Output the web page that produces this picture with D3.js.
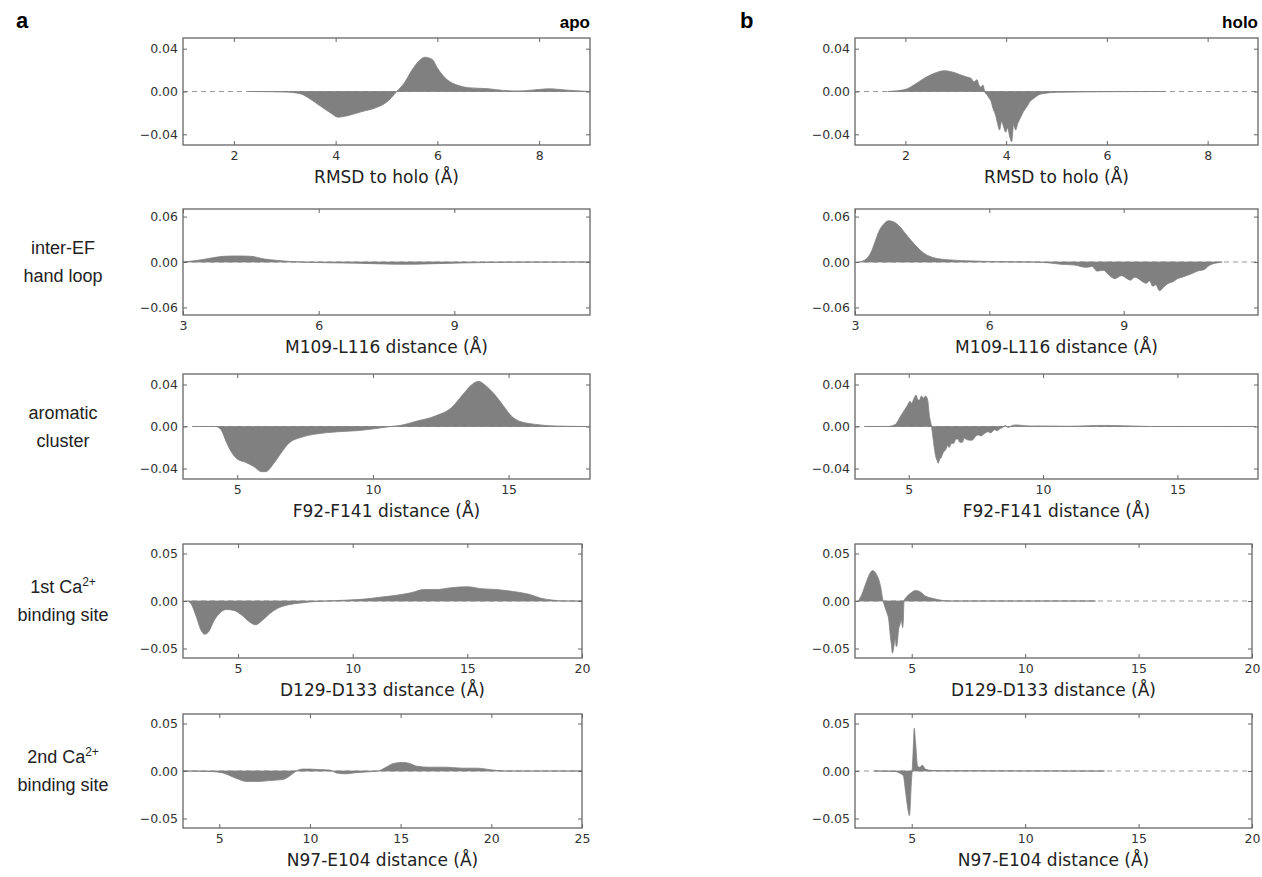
<!DOCTYPE html>
<html>
<head>
<meta charset="utf-8">
<script src="https://cdn.jsdelivr.net/npm/d3@7"></script>
<style>
  body { margin: 0; background: #fff; }
  .tick text { font-family: "DejaVu Sans", sans-serif; font-size: 12.5px; fill: #333; }
  .tick line { stroke: #666; }
</style>
</head>
<body>
<svg id="chart" width="1262" height="877"></svg>
<script>
// difference distributions, x in Angstrom, y = density difference
const apoRmsdX = [2.3, 3.0, 3.3, 3.5, 3.7, 3.9, 4.05, 4.2, 4.5, 4.8, 5.0, 5.1, 5.2, 5.35, 5.5, 5.65, 5.75, 5.9, 6.0, 6.2, 6.4, 6.6, 7.0, 7.3, 7.6, 7.9, 8.2, 8.5, 8.8, 9.0];
const apoRmsdY = [0, -0.0005, -0.002, -0.007, -0.0136, -0.02, -0.024, -0.023, -0.019, -0.015, -0.01, -0.0055, 0, 0.008, 0.02, 0.029, 0.032, 0.03, 0.022, 0.0107, 0.0058, 0.0036, 0.0026, 0.001, 0.0005, 0.0015, 0.0025, 0.0015, 0.0005, 0];

const holoRmsdX = [1.65, 1.85, 2.04, 2.2, 2.36, 2.55, 2.77, 2.95, 3.1, 3.22, 3.3, 3.36, 3.42, 3.46, 3.5, 3.54, 3.58, 3.62, 3.66, 3.7, 3.74, 3.79, 3.83, 3.87, 3.91, 3.95, 3.99, 4.03, 4.07, 4.11, 4.15, 4.19, 4.23, 4.27, 4.33, 4.4, 4.48, 4.56, 4.65, 4.72, 5.0, 5.5, 6.0, 6.5, 7.16];
const holoRmsdY = [0, 0.0008, 0.0026, 0.007, 0.012, 0.0165, 0.0194, 0.018, 0.0155, 0.0135, 0.0125, 0.009, 0.011, 0.006, 0.004, 0.006, -0.001, -0.003, -0.006, -0.009, -0.016, -0.022, -0.03, -0.036, -0.028, -0.033, -0.038, -0.034, -0.042, -0.047, -0.031, -0.036, -0.03, -0.026, -0.02, -0.015, -0.009, -0.006, -0.003, -0.002, -0.0008, -0.0004, -0.0002, -0.0001, 0];

const apoLoopX = [3.0, 3.3, 3.6, 3.9, 4.2, 4.5, 4.8, 5.1, 5.4, 5.7, 6.2, 6.8, 7.4, 7.9, 8.4, 9.0, 9.6, 10.2, 12.0];
const apoLoopY = [0, 0.002, 0.005, 0.0075, 0.008, 0.0075, 0.004, 0.002, 0.0005, -0.0003, -0.001, -0.0015, -0.0025, -0.003, -0.0025, -0.0015, -0.0008, -0.0003, 0];

const holoLoopX = [3.1, 3.25, 3.35, 3.45, 3.53, 3.64, 3.75, 3.86, 3.98, 4.16, 4.35, 4.53, 4.8, 5.07, 5.5, 5.95, 6.4, 6.9, 7.3, 7.6, 7.9, 8.15, 8.3, 8.4, 8.55, 8.65, 8.8, 8.95, 9.05, 9.15, 9.25, 9.33, 9.42, 9.5, 9.58, 9.65, 9.72, 9.8, 9.88, 9.95, 10.05, 10.1, 10.2, 10.3, 10.4, 10.5, 10.65, 10.8, 10.9, 11.1, 11.2];
const holoLoopY = [0, 0.004, 0.012, 0.027, 0.04, 0.05, 0.0545, 0.053, 0.048, 0.035, 0.022, 0.012, 0.005, 0.003, 0.0015, 0.0008, 0.0003, 0, -0.001, -0.003, -0.004, -0.007, -0.006, -0.012, -0.011, -0.016, -0.022, -0.018, -0.021, -0.024, -0.02, -0.022, -0.026, -0.028, -0.025, -0.032, -0.03, -0.038, -0.034, -0.03, -0.027, -0.026, -0.022, -0.02, -0.018, -0.016, -0.012, -0.01, -0.005, -0.001, 0];

const apoAromX = [3.4, 4.2, 4.4, 4.6, 4.8, 5.0, 5.3, 5.6, 5.9, 6.05, 6.35, 6.65, 6.9, 7.4, 7.95, 8.7, 9.4, 10.1, 10.65, 11.0, 11.6, 12.3, 12.9, 13.3, 13.7, 13.9, 14.15, 14.5, 14.8, 15.1, 15.4, 16.0, 16.7, 17.9];
const apoAromY = [0, 0, -0.003, -0.015, -0.025, -0.031, -0.034, -0.038, -0.043, -0.043, -0.035, -0.024, -0.016, -0.01, -0.007, -0.005, -0.004, -0.002, 0, 0.001, 0.005, 0.01, 0.018, 0.03, 0.041, 0.043, 0.039, 0.03, 0.02, 0.01, 0.005, 0.002, 0.0005, 0];

const holoAromX = [3.4, 4.2, 4.5, 4.7, 4.85, 4.95, 5.05, 5.1, 5.2, 5.27, 5.33, 5.4, 5.47, 5.55, 5.62, 5.7, 5.77, 5.85, 5.9, 5.95, 6.0, 6.05, 6.1, 6.15, 6.2, 6.28, 6.38, 6.45, 6.5, 6.6, 6.68, 6.75, 6.83, 6.9, 7.0, 7.06, 7.13, 7.25, 7.36, 7.5, 7.6, 7.7, 7.8, 7.95, 8.05, 8.2, 8.3, 8.4, 8.5, 8.6, 8.7, 8.85, 9.0, 9.5, 10, 11, 12, 12.5, 13.3, 14, 17.9];
const holoAromY = [0, 0, 0.002, 0.01, 0.016, 0.02, 0.024, 0.022, 0.027, 0.03, 0.026, 0.025, 0.029, 0.027, 0.029, 0.026, 0.01, 0, -0.01, -0.02, -0.028, -0.032, -0.035, -0.031, -0.03, -0.025, -0.022, -0.018, -0.02, -0.016, -0.016, -0.012, -0.012, -0.015, -0.015, -0.011, -0.012, -0.013, -0.013, -0.009, -0.008, -0.009, -0.007, -0.005, -0.006, -0.003, -0.004, -0.002, -0.001, 0.001, -0.001, 0.001, 0.0015, 0.0005, 0.0005, 0.0002, 0.001, 0.001, 0.0005, 0, 0];

const apoSite1X = [2.8, 2.95, 3.2, 3.37, 3.55, 3.7, 3.97, 4.23, 4.5, 4.83, 5.17, 5.5, 5.77, 6.03, 6.4, 6.7, 7.2, 7.75, 8.4, 8.9, 9.8, 10.5, 11.2, 11.9, 12.6, 13.1, 13.6, 14.3, 15.0, 15.6, 16.3, 17.0, 17.7, 18.2, 18.7, 19.2, 20];
const apoSite1Y = [0, -0.003, -0.018, -0.03, -0.035, -0.033, -0.02, -0.012, -0.009, -0.01, -0.015, -0.022, -0.025, -0.021, -0.013, -0.008, -0.004, -0.002, -0.0005, 0, 0.001, 0.002, 0.004, 0.006, 0.009, 0.012, 0.012, 0.014, 0.015, 0.013, 0.012, 0.01, 0.007, 0.003, 0.001, 0, 0];

const holoSite1X = [2.65, 2.82, 3.0, 3.18, 3.27, 3.45, 3.63, 3.72, 3.8, 3.9, 3.99, 4.05, 4.1, 4.15, 4.2, 4.27, 4.32, 4.36, 4.42, 4.48, 4.54, 4.6, 4.63, 4.66, 4.8, 4.99, 5.17, 5.35, 5.62, 5.89, 6.25, 6.6, 8, 10, 13.1];
const holoSite1Y = [0, 0.008, 0.02, 0.03, 0.032, 0.028, 0.015, 0.002, -0.005, -0.012, -0.02, -0.035, -0.045, -0.055, -0.05, -0.04, -0.048, -0.045, -0.03, -0.025, -0.02, -0.028, -0.02, 0, 0.005, 0.009, 0.011, 0.01, 0.005, 0.003, 0.001, 0, 0, 0, 0];

const apoSite2X = [3, 4.5, 5.2, 5.6, 6.1, 6.5, 7.2, 7.8, 8.5, 8.9, 9.25, 9.6, 10.0, 10.5, 11.1, 11.45, 12.0, 12.4, 13.1, 13.75, 14.2, 14.6, 15.1, 15.5, 15.9, 16.6, 17.5, 18.4, 19.2, 20.1, 20.8, 25];
const apoSite2Y = [0, -0.0005, -0.002, -0.005, -0.009, -0.011, -0.011, -0.01, -0.009, -0.005, 0, 0.002, 0.002, 0.0015, 0.001, -0.002, -0.003, -0.002, -0.001, 0, 0.004, 0.008, 0.009, 0.008, 0.005, 0.004, 0.004, 0.003, 0.003, 0.001, 0, 0];

const holoSite2X = [3.36, 4.27, 4.45, 4.63, 4.72, 4.8, 4.9, 4.99, 5.02, 5.08, 5.11, 5.17, 5.26, 5.35, 5.47, 5.6, 5.9, 6.25, 13.5];
const holoSite2Y = [0, -0.0005, -0.002, -0.005, -0.02, -0.035, -0.047, -0.01, 0, 0.03, 0.045, 0.03, 0.005, 0.004, 0.006, 0.002, 0.0005, 0.0003, 0];

// axis titles, ticks and limits for each row
const xTitles = ["RMSD to holo (\u00c5)", "M109-L116 distance (\u00c5)", "F92-F141 distance (\u00c5)", "D129-D133 distance (\u00c5)", "N97-E104 distance (\u00c5)"];
const xTicksApo = [[2, 4, 6, 8], [3, 6, 9], [5, 10, 15], [5, 10, 15, 20], [5, 10, 15, 20, 25]];
const xTicksHolo = [[2, 4, 6, 8], [3, 6, 9], [5, 10, 15], [5, 10, 15, 20], [5, 10, 15, 20]];
const xLimApo = [[1, 9], [3, 12], [3, 18], [2.6, 20], [3, 25]];
const xLimHolo = [[1, 9], [3, 12], [3, 18], [2.5, 20], [2.5, 20]];
const yTicks = [[-0.04, 0, 0.04], [-0.06, 0, 0.06], [-0.04, 0, 0.04], [-0.05, 0, 0.05], [-0.05, 0, 0.05]];
const yLim = [0.05, 0.07, 0.05, 0.06, 0.06];
const rowLabels = [null, ["inter-EF", "hand loop"], ["aromatic", "cluster"], ["1st Ca", "binding site"], ["2nd Ca", "binding site"]];

const apoSeries = [[apoRmsdX, apoRmsdY], [apoLoopX, apoLoopY], [apoAromX, apoAromY], [apoSite1X, apoSite1Y], [apoSite2X, apoSite2Y]];
const holoSeries = [[holoRmsdX, holoRmsdY], [holoLoopX, holoLoopY], [holoAromX, holoAromY], [holoSite1X, holoSite1Y], [holoSite2X, holoSite2Y]];

// layout
const rowTop = [38, 209, 374, 544, 714];
const rowBottom = [145, 315, 479, 658, 828];
const colLeft = [183, 855];
const colRight = [[590, 590, 590, 582, 582], [1258, 1258, 1258, 1252, 1252]];

const svg = d3.select("#chart");

function drawPanel(col, row, series, xLim, xTicks) {
  const left = colLeft[col];
  const right = colRight[col][row];
  const top = rowTop[row];
  const bottom = rowBottom[row];

  const x = d3.scaleLinear().domain(xLim).range([left, right]);
  const y = d3.scaleLinear().domain([-yLim[row], yLim[row]]).range([bottom, top]);

  const clipId = "clip-" + col + "-" + row;
  svg.append("clipPath").attr("id", clipId)
    .append("rect")
    .attr("x", left).attr("y", top)
    .attr("width", right - left).attr("height", bottom - top);

  const points = series[0].map((v, i) => [v, series[1][i]]);

  // dashed zero line
  svg.append("line")
    .attr("x1", left).attr("x2", right)
    .attr("y1", y(0)).attr("y2", y(0))
    .attr("stroke", "#999")
    .attr("stroke-width", 1)
    .attr("stroke-dasharray", "5,4");

  const area = d3.area()
    .curve(d3.curveMonotoneX)
    .x(d => x(d[0]))
    .y0(y(0))
    .y1(d => y(d[1]));

  svg.append("path")
    .datum(points)
    .attr("clip-path", "url(#" + clipId + ")")
    .attr("d", area)
    .attr("fill", "#808080")
    .attr("stroke", "#808080")
    .attr("stroke-width", 0.8)
    .attr("stroke-linejoin", "round");

  // axes with inward ticks on all sides
  svg.append("g")
    .attr("transform", "translate(0," + bottom + ")")
    .call(d3.axisBottom(x).tickValues(xTicks).tickSize(-4).tickPadding(6).tickFormat(d3.format("d")))
    .call(g => g.select(".domain").remove());

  svg.append("g")
    .attr("transform", "translate(0," + top + ")")
    .call(d3.axisTop(x).tickValues(xTicks).tickSize(-4).tickFormat(""))
    .call(g => g.select(".domain").remove());

  svg.append("g")
    .attr("transform", "translate(" + left + ",0)")
    .call(d3.axisLeft(y).tickValues(yTicks[row]).tickSize(-4).tickPadding(5).tickFormat(d3.format(".2f")))
    .call(g => g.select(".domain").remove());

  svg.append("g")
    .attr("transform", "translate(" + right + ",0)")
    .call(d3.axisRight(y).tickValues(yTicks[row]).tickSize(-4).tickFormat(""))
    .call(g => g.select(".domain").remove());

  svg.append("rect")
    .attr("x", left).attr("y", top)
    .attr("width", right - left).attr("height", bottom - top)
    .attr("fill", "none")
    .attr("stroke", "#666")
    .attr("stroke-width", 1.3);

  svg.append("text")
    .attr("x", (left + right) / 2)
    .attr("y", bottom + 38)
    .attr("text-anchor", "middle")
    .attr("font-family", "DejaVu Sans, sans-serif")
    .attr("font-size", 17)
    .attr("fill", "#222")
    .text(xTitles[row]);
}

for (let r = 0; r < 5; r++) {
  drawPanel(0, r, apoSeries[r], xLimApo[r], xTicksApo[r]);
  drawPanel(1, r, holoSeries[r], xLimHolo[r], xTicksHolo[r]);
}

// row labels on the left
rowLabels.forEach((lines, r) => {
  if (!lines) return;
  const mid = (rowTop[r] + rowBottom[r]) / 2;
  const t = svg.append("text")
    .attr("text-anchor", "middle")
    .attr("font-family", "Liberation Sans, Arial, sans-serif")
    .attr("font-size", 18)
    .attr("fill", "#222");
  const first = t.append("tspan").attr("x", 63).attr("y", mid - 8).text(lines[0]);
  if (r >= 3) {
    first.append("tspan").attr("dy", -7).attr("font-size", 12).text("2+");
  }
  t.append("tspan").attr("x", 63).attr("y", mid + 20).text(lines[1]);
});

// panel letters and headers
svg.append("text").attr("x", 16).attr("y", 28)
  .attr("font-family", "Liberation Sans, Arial, sans-serif")
  .attr("font-weight", "bold").attr("font-size", 22).text("a");
svg.append("text").attr("x", 740).attr("y", 28)
  .attr("font-family", "Liberation Sans, Arial, sans-serif")
  .attr("font-weight", "bold").attr("font-size", 22).text("b");
svg.append("text").attr("x", colRight[0][0]).attr("y", 28).attr("text-anchor", "end")
  .attr("font-family", "Liberation Sans, Arial, sans-serif")
  .attr("font-weight", "bold").attr("font-size", 17).text("apo");
svg.append("text").attr("x", colRight[1][0]).attr("y", 28).attr("text-anchor", "end")
  .attr("font-family", "Liberation Sans, Arial, sans-serif")
  .attr("font-weight", "bold").attr("font-size", 17).text("holo");
</script>
</body>
</html>
